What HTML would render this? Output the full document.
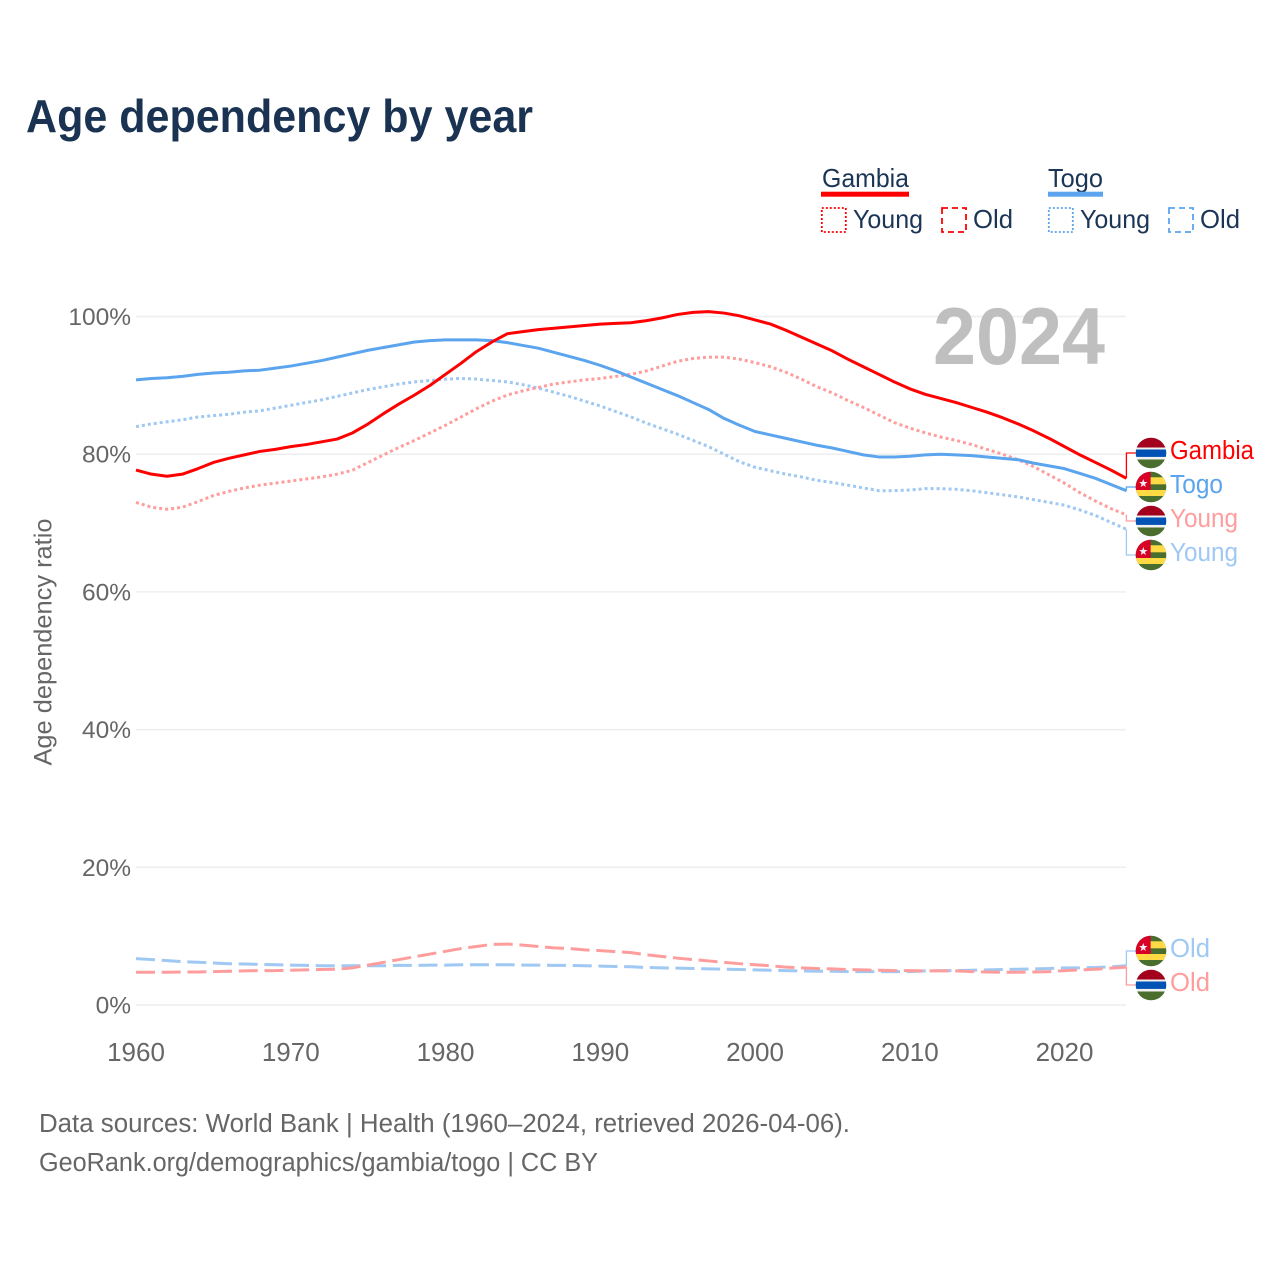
<!DOCTYPE html>
<html lang="en">
<head>
<meta charset="utf-8">
<title>Age dependency by year</title>
<style>
html,body{margin:0;padding:0;background:#fff;}
svg{display:block;font-family:"Liberation Sans",Arial,sans-serif;}
</style>
</head>
<body>
<svg id="chart" xmlns="http://www.w3.org/2000/svg" width="1280" height="1280" viewBox="0 0 1280 1280">
  <defs>
    <clipPath id="flag-clip"><circle cx="0" cy="0" r="15.3"/></clipPath>
    <g id="flag-gambia">
      <g clip-path="url(#flag-clip)">
        <rect x="-16" y="-16" width="32" height="32" fill="#f0f0f0"/>
        <rect x="-16" y="-16" width="32" height="10.5" fill="#a2001d"/>
        <rect x="-16" y="-3.5" width="32" height="7.4" fill="#0052b4"/>
        <rect x="-16" y="6.5" width="32" height="10" fill="#496e2d"/>
      </g>
    </g>
    <g id="flag-togo">
      <g clip-path="url(#flag-clip)">
        <rect x="-16" y="-16" width="32" height="32" fill="#496e2d"/>
        <rect x="-16" y="-9.7" width="32" height="7" fill="#ffda44"/>
        <rect x="-16" y="3" width="32" height="6" fill="#ffda44"/>
        <rect x="-16" y="-16" width="15.6" height="19" fill="#d80027"/>
        <polygon points="-7.7,-8 -6.6,-5 -3.5,-5 -6,-3 -5.1,0 -7.7,-1.8 -10.3,0 -9.4,-3 -11.9,-5 -8.8,-5" fill="#f0f0f0"/>
      </g>
    </g>
  </defs>

  <text x="26" y="132" font-size="46" font-weight="700" fill="#1a3352" textLength="507" lengthAdjust="spacingAndGlyphs">Age dependency by year</text>

  <g font-size="26" fill="#1b3556">
    <text x="822" y="187" textLength="87" lengthAdjust="spacingAndGlyphs">Gambia</text>
    <rect x="821" y="191.7" width="88" height="5" fill="#ff0000"/>
    <rect x="821.8" y="208" width="24" height="24" fill="none" stroke="#ff0000" stroke-width="1.8" stroke-dasharray="2 2"/>
    <text x="853" y="228" textLength="70" lengthAdjust="spacingAndGlyphs">Young</text>
    <rect x="942" y="208" width="24" height="24" fill="none" stroke="#ff0000" stroke-width="1.8" stroke-dasharray="6 4"/>
    <text x="973" y="228" textLength="40" lengthAdjust="spacingAndGlyphs">Old</text>
    <text x="1048" y="187" textLength="55" lengthAdjust="spacingAndGlyphs">Togo</text>
    <rect x="1048" y="191.7" width="55" height="5" fill="#5ba4ee"/>
    <rect x="1048.8" y="208" width="24" height="24" fill="none" stroke="#5ba4ee" stroke-width="1.8" stroke-dasharray="2 2"/>
    <text x="1080" y="228" textLength="70" lengthAdjust="spacingAndGlyphs">Young</text>
    <rect x="1169" y="208" width="24" height="24" fill="none" stroke="#5ba4ee" stroke-width="1.8" stroke-dasharray="6 4"/>
    <text x="1200" y="228" textLength="40" lengthAdjust="spacingAndGlyphs">Old</text>
  </g>

  <text transform="translate(51.5,642) rotate(-90)" text-anchor="middle" font-size="25" fill="#666666" textLength="247" lengthAdjust="spacingAndGlyphs">Age dependency ratio</text>

  <g id="grid"></g>
  <text x="933" y="364" font-size="81" font-weight="700" fill="#bfbfbf" textLength="172" lengthAdjust="spacingAndGlyphs">2024</text>
  <g id="series"></g>
  <g id="end-labels"></g>

  <g font-size="25.5" fill="#666666">
    <text x="39" y="1132" textLength="811" lengthAdjust="spacingAndGlyphs">Data sources: World Bank | Health (1960–2024, retrieved 2026-04-06).</text>
    <text x="39" y="1171" textLength="559" lengthAdjust="spacingAndGlyphs">GeoRank.org/demographics/gambia/togo | CC BY</text>
  </g>
</svg>

<script>
const firstYear = 1960;
const xTicks = [1960, 1970, 1980, 1990, 2000, 2010, 2020];
const yTicks = [0, 20, 40, 60, 80, 100];

const gambiaTotal = [77.7,77.1,76.8,77.1,77.9,78.8,79.4,79.9,80.4,80.7,81.1,81.4,81.8,82.2,83.1,84.4,85.9,87.3,88.6,90.0,91.6,93.2,94.9,96.3,97.5,97.8,98.1,98.3,98.5,98.7,98.9,99.0,99.1,99.4,99.8,100.3,100.6,100.7,100.5,100.1,99.5,98.9,98.0,97.0,96.0,95.0,93.8,92.7,91.6,90.5,89.5,88.7,88.1,87.5,86.8,86.1,85.3,84.4,83.4,82.3,81.1,79.9,78.8,77.7,76.5];
const togoTotal = [90.8,91.0,91.1,91.3,91.6,91.8,91.9,92.1,92.2,92.5,92.8,93.2,93.6,94.1,94.6,95.1,95.5,95.9,96.3,96.5,96.6,96.6,96.6,96.5,96.2,95.8,95.4,94.8,94.2,93.6,92.9,92.1,91.2,90.3,89.4,88.5,87.5,86.5,85.2,84.2,83.3,82.8,82.3,81.8,81.3,80.9,80.4,79.9,79.6,79.6,79.7,79.9,80.0,79.9,79.8,79.6,79.4,79.2,78.7,78.3,77.9,77.2,76.5,75.6,74.7];
const gambiaYoung = [73.0,72.3,72.0,72.3,73.1,74.0,74.6,75.1,75.5,75.8,76.1,76.4,76.7,77.1,77.7,78.8,79.9,81.0,82.0,83.1,84.2,85.4,86.6,87.7,88.6,89.2,89.7,90.2,90.5,90.8,91.0,91.3,91.6,92.1,92.8,93.5,93.9,94.1,94.1,93.8,93.3,92.7,91.9,90.9,89.8,88.9,87.8,86.8,85.7,84.6,83.8,83.1,82.5,82.0,81.4,80.7,80.0,79.2,78.2,77.0,75.8,74.4,73.2,72.1,71.2];
const togoYoung = [84.0,84.4,84.7,85.0,85.4,85.6,85.8,86.1,86.3,86.7,87.1,87.5,87.9,88.4,88.9,89.4,89.8,90.2,90.5,90.7,90.9,91.0,90.9,90.7,90.5,90.1,89.6,89.0,88.4,87.7,87.0,86.2,85.4,84.5,83.7,82.9,82.0,81.1,80.0,78.9,78.1,77.6,77.1,76.7,76.2,75.9,75.5,75.1,74.7,74.7,74.8,75.0,75.0,74.9,74.7,74.4,74.1,73.8,73.4,73.0,72.6,71.9,71.1,70.1,69.1];
const gambiaOld = [4.75,4.75,4.75,4.8,4.8,4.85,4.9,4.95,5.0,5.0,5.05,5.1,5.15,5.2,5.4,5.8,6.2,6.6,7.0,7.4,7.8,8.2,8.5,8.8,8.85,8.7,8.5,8.3,8.2,8.0,7.9,7.75,7.6,7.3,7.05,6.8,6.6,6.4,6.2,6.0,5.85,5.7,5.5,5.4,5.3,5.25,5.15,5.1,5.05,5.0,5.0,4.95,4.95,4.95,4.85,4.8,4.75,4.75,4.8,4.85,5.0,5.1,5.2,5.35,5.5];
const togoOld = [6.73,6.6,6.45,6.3,6.2,6.1,6.0,5.95,5.9,5.85,5.8,5.75,5.7,5.7,5.7,5.7,5.7,5.75,5.75,5.8,5.8,5.85,5.85,5.85,5.85,5.8,5.8,5.75,5.75,5.7,5.65,5.6,5.55,5.45,5.4,5.35,5.3,5.25,5.2,5.15,5.1,5.05,5.0,4.95,4.9,4.9,4.85,4.85,4.85,4.85,4.85,4.95,5.0,5.0,5.05,5.1,5.15,5.2,5.25,5.3,5.4,5.4,5.45,5.55,5.7];

const NS = 'http://www.w3.org/2000/svg';
const x = year => 136 + (year - 1960) * 15.475;
const y = pct => 1005 - pct * 6.885;
const RED = '#ff0000', BLUE = '#5ba4ee', LRED = '#ff9d9d', LBLUE = '#9fc8f3';
const STYLE = {solid: null, dotted: '3 3', dashed: '19 6.7'};

function mk(tag, attrs, parent) {
  const el = document.createElementNS(NS, tag);
  for (const k in attrs) el.setAttribute(k, attrs[k]);
  parent.appendChild(el);
  return el;
}

const grid = document.getElementById('grid');
yTicks.forEach(t => {
  const line = mk('line', {x1: 136, x2: 1126, y1: y(t), y2: y(t), stroke: '#eeeeee', 'stroke-width': 1.5}, grid);
  
  
  const label = mk('text', {x: 131, y: y(t) + 8.5, 'text-anchor': 'end', 'font-size': 24.5, fill: '#666666'}, grid);
  label.textContent = t + '%';
  
  
});
xTicks.forEach(t => {
  const label = mk('text', {x: x(t), y: 1061, 'text-anchor': 'middle', 'font-size': 26, fill: '#666666'}, grid);
  label.textContent = t;
  
  
});

const allSeries = [
  {id: 'togo-old', values: togoOld, color: LBLUE, dash: 'dashed', label: 'Old', flag: 'togo'},
  {id: 'gambia-old', values: gambiaOld, color: LRED, dash: 'dashed', label: 'Old', flag: 'gambia'},
  {id: 'togo-young', values: togoYoung, color: LBLUE, dash: 'dotted', label: 'Young', flag: 'togo'},
  {id: 'gambia-young', values: gambiaYoung, color: LRED, dash: 'dotted', label: 'Young', flag: 'gambia'},
  {id: 'togo-total', values: togoTotal, color: BLUE, dash: 'solid', label: 'Togo', flag: 'togo'},
  {id: 'gambia-total', values: gambiaTotal, color: RED, dash: 'solid', label: 'Gambia', flag: 'gambia'}
];

const seriesGroup = document.getElementById('series');
allSeries.forEach(s => {
  const d = s.values.map((v, i) => (i ? 'L' : 'M') + x(firstYear + i).toFixed(2) + ' ' + y(v).toFixed(2)).join(' ');
  const path = mk('path', {d: d, fill: 'none', stroke: s.color, 'stroke-width': 3, 'stroke-linejoin': 'round'}, seriesGroup);
  if (STYLE[s.dash]) path.setAttribute('stroke-dasharray', STYLE[s.dash]);
  
  
});

const labelsGroup = document.getElementById('end-labels');
const lastX = x(firstYear + gambiaTotal.length - 1);
const ranked = allSeries.slice().sort((a, b) => b.values[b.values.length - 1] - a.values[a.values.length - 1]);
const labelWidths = {Gambia: 84, Togo: 53, Young: 68, Old: 40};
ranked.forEach((s, i) => {
  const slotY = i < 4 ? 453 + 34 * i : 951 + 34 * (i - 4);
  const endY = y(s.values[s.values.length - 1]);
  const conn = mk('path', {d: 'M' + lastX + ' ' + endY + ' V' + slotY + ' H1136', fill: 'none', stroke: s.color, 'stroke-width': 1.3}, labelsGroup);
  
  
  const flag = mk('use', {href: '#flag-' + s.flag, transform: 'translate(1151,' + slotY + ')'}, labelsGroup);
  
  
  const label = mk('text', {x: 1170, y: slotY + 6, 'font-size': 25.5, fill: s.color, textLength: labelWidths[s.label], lengthAdjust: 'spacingAndGlyphs'}, labelsGroup);
  label.textContent = s.label;
  
  
});
</script>
</body>
</html>
